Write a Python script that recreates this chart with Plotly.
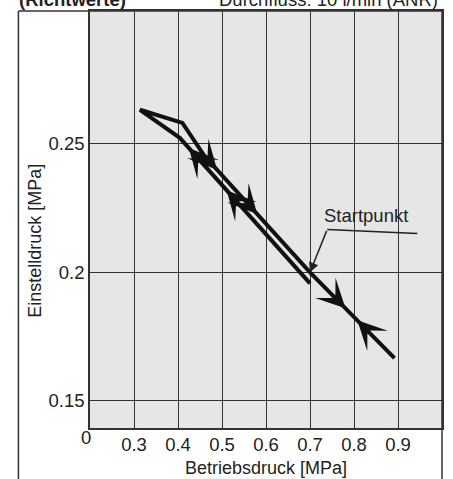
import plotly.graph_objects as go

# ---- data ----
path_x = [0.700, 0.404, 0.3135, 0.410, 0.460, 0.700, 0.892]
path_y = [0.1957, 0.2523, 0.2632, 0.2581, 0.2453, 0.200, 0.1667]

# arrows: segment index on the path, fraction along the segment, direction (+1 forward / -1 backward)
arrow_seg = [0, 4, 0, 4, 5, 5]
arrow_frac = [0.93, 0.12, 0.64, 0.50, 0.42, 0.56]
arrow_dir = [1, 1, 1, 1, 1, -1]

start_x = [0.70]
start_y = [0.20]

x_tick_vals = [0.3, 0.4, 0.5, 0.6, 0.7, 0.8, 0.9]
x_tick_text = ["0.3", "0.4", "0.5", "0.6", "0.7", "0.8", "0.9"]
y_tick_vals = [0.15, 0.20, 0.25]
y_tick_text = ["0.15", "0.2", "0.25"]

FONT = "Liberation Sans, Arial, sans-serif"
INK = "#222222"
GRID = "#333333"

fig = go.Figure()

fig.add_trace(go.Scatter(
    x=path_x, y=path_y, mode="lines",
    line=dict(color="#111111", width=4),
    hoverinfo="skip", showlegend=False,
))


def interp(seg, t):
    x0, y0 = path_x[seg], path_y[seg]
    x1, y1 = path_x[seg + 1], path_y[seg + 1]
    return x0 + (x1 - x0) * t, y0 + (y1 - y0) * t


for seg, t, d in zip(arrow_seg, arrow_frac, arrow_dir):
    tip = interp(seg, t)
    tail = interp(seg, t - 0.12 * d)
    fig.add_annotation(x=tip[0], y=tip[1], ax=tail[0], ay=tail[1],
                       xref="x", yref="y", axref="x", ayref="y",
                       text="", showarrow=True, arrowhead=3,
                       arrowwidth=3, arrowsize=1.6, arrowcolor="#111111")

# Startpunkt leader
fig.add_shape(type="line", xref="x", yref="y",
              x0=0.7392, y0=0.2167, x1=0.9441, y1=0.2151,
              line=dict(color="#222222", width=1.5))
fig.add_annotation(x=start_x[0], y=start_y[0], ax=0.7392, ay=0.2167,
                   axref="x", ayref="y", xref="x", yref="y",
                   text="", showarrow=True, arrowhead=2, arrowsize=1.3,
                   arrowwidth=1.5, arrowcolor="#222222")
fig.add_annotation(x=0.827, y=0.2221, xref="x", yref="y", text="Startpunkt",
                   xanchor="center", yanchor="middle", showarrow=False,
                   font=dict(family=FONT, size=18.5, color=INK))

# axis titles and origin label
fig.add_annotation(x=0.5, y=-0.0957, xref="paper", yref="paper",
                   xanchor="center", yanchor="middle",
                   text="Betriebsdruck [MPa]", showarrow=False,
                   font=dict(family=FONT, size=18, color=INK))
fig.add_annotation(x=-0.1554, y=0.4498, xref="paper", yref="paper",
                   xanchor="center", yanchor="middle",
                   text="Einstelldruck [MPa]", textangle=-90, showarrow=False,
                   font=dict(family=FONT, size=18, color=INK))
fig.add_annotation(x=-0.0113, y=-0.0239, xref="paper", yref="paper",
                   xanchor="center", yanchor="middle",
                   text="0", showarrow=False,
                   font=dict(family=FONT, size=18.5, color=INK))

# header texts (cut by top edge, as in the reference)
fig.add_annotation(x=-0.2062, y=1.0275, xref="paper", yref="paper",
                   xanchor="left", yanchor="middle",
                   text="<b>(Richtwerte)</b>", showarrow=False,
                   font=dict(family=FONT, size=18.5, color=INK))
fig.add_annotation(x=0.9944, y=1.0275, xref="paper", yref="paper",
                   xanchor="right", yanchor="middle",
                   text="Durchfluss: 10 l/min (ANR)", showarrow=False,
                   font=dict(family=FONT, size=18.5, color=INK))

# outer frame
for x0, y0, x1, y1 in [(-0.2034, -0.2, -0.2034, 1.0), (-0.2034, 1.0, 1.0, 1.0), (1.0, -0.2, 1.0, 1.0)]:
    fig.add_shape(type="line", xref="paper", yref="paper", x0=x0, y0=y0, x1=x1, y1=y1,
                  line=dict(color="#333333", width=1.5))

fig.update_layout(
    width=453, height=479,
    margin=dict(l=90, r=9, t=10, b=51),
    paper_bgcolor="white", plot_bgcolor="#e6e6e6",
    font=dict(family=FONT, size=18.5, color=INK),
    showlegend=False,
)
fig.update_xaxes(range=[0.2, 1.0], tickvals=x_tick_vals, ticktext=x_tick_text,
                 showgrid=True, gridcolor=GRID, gridwidth=1.2,
                 showline=True, mirror=True, linecolor=GRID, linewidth=1.5,
                 ticks="", zeroline=False, tickfont=dict(size=18.5),
                 ticklabelstandoff=-1)
fig.update_yaxes(range=[0.1395, 0.3016], tickvals=y_tick_vals, ticktext=y_tick_text,
                 showgrid=True, gridcolor=GRID, gridwidth=1.2,
                 showline=True, mirror=True, linecolor=GRID, linewidth=1.5,
                 ticks="", zeroline=False, tickfont=dict(size=18.5))

fig.write_html("out.html", config={"displayModeBar": False},
               post_script="document.body.style.margin='0';")
